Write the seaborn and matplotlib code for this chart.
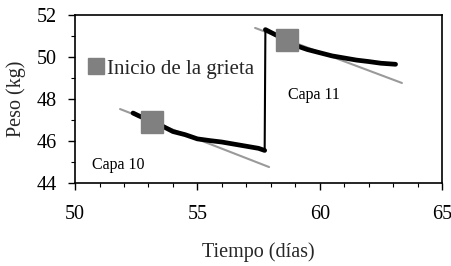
import matplotlib
matplotlib.use("Agg")
import matplotlib.pyplot as plt
import seaborn as sns
import pandas as pd
from matplotlib.ticker import MultipleLocator
from matplotlib.lines import Line2D

sns.set_theme(style="ticks")
plt.rcParams['font.family'] = ['Liberation Serif', 'DejaVu Serif']

# Measured weight (kg) vs time (days)
capa10_t = [52.37, 52.6, 53.0, 53.5, 54.0, 54.5, 55.0, 55.5, 56.0, 56.5, 57.0, 57.5, 57.75]
capa10_w = [47.33, 47.2, 47.0, 46.75, 46.45, 46.3, 46.1, 46.02, 45.95, 45.85, 45.75, 45.65, 45.55]
salto_t = [57.75, 57.78]
salto_w = [45.55, 51.3]
capa11_t = [57.78, 58.2, 58.66, 59.0, 59.5, 60.0, 60.5, 61.0, 61.5, 62.0, 62.5, 63.1]
capa11_w = [51.3, 51.05, 50.8, 50.55, 50.35, 50.2, 50.05, 49.95, 49.85, 49.78, 49.7, 49.65]

# Linear trend lines (endpoints)
tend10_t = [51.84, 57.93]
tend10_w = [47.52, 44.76]
tend11_t = [57.36, 63.36]
tend11_w = [51.38, 48.76]

# Crack initiation points
grieta_t = [53.15, 58.66]
grieta_w = [46.9, 50.8]

fig = plt.figure(figsize=(4.52, 2.66), dpi=100)
ax = fig.add_axes([0.166, 0.312, 0.812, 0.632])

sns.lineplot(x=tend10_t, y=tend10_w, ax=ax, color="#9a9a9a", lw=1.5, sort=False)
sns.lineplot(x=tend11_t, y=tend11_w, ax=ax, color="#9a9a9a", lw=1.5, sort=False)
sns.lineplot(x=capa10_t, y=capa10_w, ax=ax, color="black", lw=3.4, sort=False)
sns.lineplot(x=salto_t, y=salto_w, ax=ax, color="black", lw=1.5, sort=False)
sns.lineplot(x=capa11_t, y=capa11_w, ax=ax, color="black", lw=3.4, sort=False)
ax.plot(grieta_t, grieta_w, ls="none", marker="s", ms=16, color="#808080", zorder=5)

ax.set_xlim(50, 65)
ax.set_ylim(44, 52)
ax.xaxis.set_major_locator(MultipleLocator(5))
ax.xaxis.set_minor_locator(MultipleLocator(1))
ax.yaxis.set_major_locator(MultipleLocator(2))
ax.yaxis.set_minor_locator(MultipleLocator(1))
ax.tick_params(which="major", direction="out", length=5, width=1, labelsize=14.5, colors="black")
ax.tick_params(axis="x", which="major", pad=11)
ax.tick_params(axis="y", which="major", pad=8)
ax.tick_params(which="minor", direction="out", length=3, width=0.8, colors="black")
for s in ax.spines.values():
    s.set_visible(True)
    s.set_color("black")
    s.set_linewidth(1.2)

ax.set_xlabel("Tiempo (días)", fontsize=14.5, labelpad=13)
ax.set_ylabel("Peso (kg)", fontsize=14.5, labelpad=8)

ax.text(50.7, 44.85, "Capa 10", fontsize=11.5, color="black", ha="left", va="center")
ax.text(58.7, 48.2, "Capa 11", fontsize=11.5, color="black", ha="left", va="center")

handle = Line2D([], [], ls="none", marker="s", ms=12, color="#808080")
ax.legend([handle], ["Inicio de la grieta"], loc="center left", bbox_to_anchor=(0.03, 0.679),
          frameon=False, fontsize=15, handletextpad=0.0, borderpad=0.0, borderaxespad=0.0,
          handlelength=1.0)

fig.savefig("out.png", dpi=100)
